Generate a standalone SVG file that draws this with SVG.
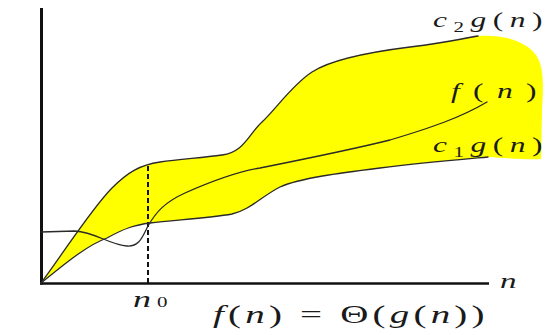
<svg xmlns="http://www.w3.org/2000/svg" width="548" height="335" viewBox="0 0 548 335">
<style>
  .curve { fill: none; stroke: #2a2a2a; stroke-width: 1.3; stroke-linejoin: round; stroke-linecap: round; }
  .axis { fill: none; stroke: #111; stroke-linecap: butt; }
  text { font-family: "Liberation Serif", "Times New Roman", serif; fill: #1a1a1a; }
  .it { font-style: italic; }
</style>
<rect x="0" y="0" width="548" height="335" fill="#ffffff"/>
<g id="band">
  <path d="M41,283 C62,255 92,208 112,188 C128,172 140,165 160,162 S200,158 222,155 S248,135 262,122 S292,85 312,72 S370,52 410,47 S455,40 478,36 C500,34 525,40 536,55 C545,68 543,90 542,110 L541,159 C530,160 505,158 488,157 C455,160 420,163 380,168 C340,173 300,178 280,187 C262,196 250,210 232,214 C210,218 175,220 150,223 C135,225 125,228 107,238 C85,246 60,268 41,283 Z" fill="#ffff00" stroke="none"/>
</g>
<g id="connectors">
  <line class="axis" x1="41.5" y1="8" x2="41.5" y2="284.5" stroke-width="3"/>
  <line class="axis" x1="40" y1="283.5" x2="489" y2="283.5" stroke-width="2.5"/>
  <line x1="148" y1="166" x2="148" y2="283" stroke="#111" stroke-width="2" stroke-dasharray="5,3"/>
</g>
<g id="c2g">
  <path class="curve" d="M41,283 C62,255 92,208 112,188 C128,172 140,165 160,162 S200,158 222,155 S248,135 262,122 S292,85 312,72 S370,52 410,47 S455,40 478,36"/>
  <g transform="translate(433,27) scale(1.5,1)"><text x="0" y="0" font-size="21" textLength="73" lengthAdjust="spacing"><tspan class="it">c</tspan><tspan font-size="14" dy="5">2</tspan><tspan class="it" dy="-5">g</tspan>(<tspan class="it">n</tspan>)</text></g>
</g>
<g id="f">
  <path class="curve" d="M41,232 L75,231 C95,232 110,245 127,246 C140,247 143,235 148,226 C156,212 165,202 185,193 C210,182 235,172 260,168 C300,160 350,150 390,140 C430,128 460,118 487,102"/>
  <g transform="translate(451,98) scale(1.5,1)"><text x="0" y="0" font-size="21" textLength="57" lengthAdjust="spacing"><tspan class="it">f</tspan>(<tspan class="it">n</tspan>)</text></g>
</g>
<g id="c1g">
  <path class="curve" d="M41,283 C60,268 85,246 107,238 C125,228 135,225 150,223 C175,220 210,218 232,214 C250,210 262,196 280,187 C300,178 340,173 380,168 C420,163 455,160 488,157"/>
  <g transform="translate(433,152) scale(1.5,1)"><text x="0" y="0" font-size="21" textLength="73" lengthAdjust="spacing"><tspan class="it">c</tspan><tspan font-size="14" dy="5">1</tspan><tspan class="it" dy="-5">g</tspan>(<tspan class="it">n</tspan>)</text></g>
</g>
<g id="labels">
  <g transform="translate(500,288) scale(1.5,1)"><text class="it" x="0" y="0" font-size="22">n</text></g>
  <g transform="translate(133,307) scale(1.5,1)"><text x="0" y="0" font-size="24" textLength="23" lengthAdjust="spacing"><tspan class="it">n</tspan><tspan font-size="14">0</tspan></text></g>
  <g transform="translate(213,323) scale(1.5,1)"><text x="0" y="0" font-size="26" textLength="181" lengthAdjust="spacing"><tspan class="it">f</tspan>(<tspan class="it">n</tspan>) = Θ(<tspan class="it">g</tspan>(<tspan class="it">n</tspan>))</text></g>
</g>
</svg>
